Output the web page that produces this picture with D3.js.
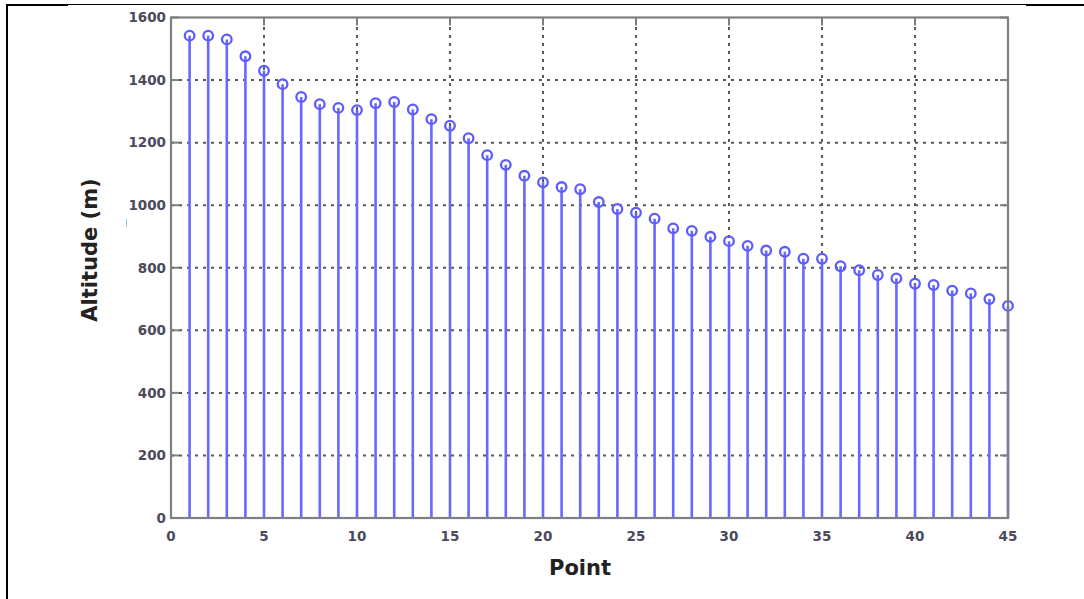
<!DOCTYPE html>
<html>
<head>
<meta charset="utf-8">
<title>Altitude stem chart</title>
<script src="https://d3js.org/d3.v7.min.js"></script>
<style>
  body { margin: 0; background: #fff; }
  svg { display: block; }
</style>
</head>
<body>
<svg id="chart" width="1084" height="599"></svg>
<script>
// altitude (m) at each point
var points = [1, 2, 3, 4, 5, 6, 7, 8, 9, 10, 11, 12, 13, 14, 15, 16, 17, 18, 19, 20, 21, 22, 23,
              24, 25, 26, 27, 28, 29, 30, 31, 32, 33, 34, 35, 36, 37, 38, 39, 40, 41, 42, 43, 44, 45];
var altitude = [1542, 1542, 1530, 1476, 1430, 1387, 1346, 1323, 1311, 1304,
                1326, 1330, 1306, 1275, 1254, 1214, 1160, 1129, 1094, 1073,
                1058, 1051, 1010, 988, 976, 957, 926, 918, 899, 885,
                870, 855, 851, 829, 829, 805, 792, 777, 766, 749,
                745, 727, 718, 700, 678];
var xTicks = [0, 5, 10, 15, 20, 25, 30, 35, 40, 45];
var yTicks = [0, 200, 400, 600, 800, 1000, 1200, 1400, 1600];

var svg = d3.select("#chart");

var x = d3.scaleLinear().domain([0, 45]).range([171, 1008]);
var y = d3.scaleLinear().domain([0, 1600]).range([518, 17.5]);

// frame lines round the picture (table cell border)
svg.append("line").attr("x1", 6).attr("x2", 1084).attr("y1", 4.5).attr("y2", 4.5)
    .attr("stroke", "#000").attr("stroke-width", 1);
svg.append("line").attr("x1", 6).attr("x2", 68).attr("y1", 5).attr("y2", 5)
    .attr("stroke", "#000").attr("stroke-width", 2);
svg.append("line").attr("x1", 1026).attr("x2", 1084).attr("y1", 5).attr("y2", 5)
    .attr("stroke", "#000").attr("stroke-width", 2);
svg.append("line").attr("x1", 7).attr("x2", 7).attr("y1", 4).attr("y2", 599)
    .attr("stroke", "#000").attr("stroke-width", 2);

// dotted grid
var grid = svg.append("g");
grid.selectAll(".gx")
    .data(xTicks.filter(function(d) { return d > 0 && d < 45; }))
  .enter().append("line")
    .attr("x1", function(d) { return x(d); })
    .attr("x2", function(d) { return x(d); })
    .attr("y1", y(0)).attr("y2", y(1600))
    .attr("stroke", "#5a5a5a").attr("stroke-width", 2)
    .attr("stroke-dasharray", "3 5");
grid.selectAll(".gy")
    .data(yTicks.filter(function(d) { return d > 0 && d < 1600; }))
  .enter().append("line")
    .attr("x1", x(0)).attr("x2", x(45))
    .attr("y1", function(d) { return y(d); })
    .attr("y2", function(d) { return y(d); })
    .attr("stroke", "#5a5a5a").attr("stroke-width", 2)
    .attr("stroke-dasharray", "3 5");

// inward ticks on all four sides
var tickLen = 8;
var ticks = svg.append("g").attr("stroke", "#7f7f7f").attr("stroke-width", 2);
yTicks.forEach(function(d) {
  ticks.append("line").attr("x1", x(0)).attr("x2", x(0) + tickLen).attr("y1", y(d)).attr("y2", y(d));
  ticks.append("line").attr("x1", x(45)).attr("x2", x(45) - tickLen).attr("y1", y(d)).attr("y2", y(d));
});
xTicks.forEach(function(d) {
  ticks.append("line").attr("x1", x(d)).attr("x2", x(d)).attr("y1", y(0)).attr("y2", y(0) - tickLen);
  ticks.append("line").attr("x1", x(d)).attr("x2", x(d)).attr("y1", y(1600)).attr("y2", y(1600) + tickLen);
});

// stems
var stems = svg.append("g");
stems.selectAll("line")
    .data(altitude)
  .enter().append("line")
    .attr("x1", function(d, i) { return x(points[i]); })
    .attr("x2", function(d, i) { return x(points[i]); })
    .attr("y1", y(0))
    .attr("y2", function(d) { return y(d); })
    .attr("stroke", "#6868ff")
    .attr("stroke-width", 2.6);

stems.selectAll("circle")
    .data(altitude)
  .enter().append("circle")
    .attr("cx", function(d, i) { return x(points[i]); })
    .attr("cy", function(d) { return y(d); })
    .attr("r", 4.8)
    .attr("fill", "none")
    .attr("stroke", "#5c5cff")
    .attr("stroke-width", 2.3);

// axes box
svg.append("rect")
    .attr("x", x(0)).attr("y", y(1600))
    .attr("width", x(45) - x(0)).attr("height", y(0) - y(1600))
    .attr("fill", "none")
    .attr("stroke", "#7f7f7f")
    .attr("stroke-width", 2.2);

// tick labels
var labels = svg.append("g")
    .attr("font-family", "DejaVu Sans, sans-serif")
    .attr("font-weight", "bold")
    .attr("font-size", "13.5px")
    .attr("fill", "#4a4a5c");
labels.selectAll(".yl")
    .data(yTicks)
  .enter().append("text")
    .attr("x", 166)
    .attr("y", function(d) { return y(d); })
    .attr("dy", "0.36em")
    .attr("text-anchor", "end")
    .text(function(d) { return d; });
labels.selectAll(".xl")
    .data(xTicks)
  .enter().append("text")
    .attr("x", function(d) { return x(d); })
    .attr("y", 541)
    .attr("text-anchor", "middle")
    .text(function(d) { return d; });

// axis titles
svg.append("text")
    .attr("x", 580)
    .attr("y", 575)
    .attr("text-anchor", "middle")
    .attr("font-family", "DejaVu Sans, sans-serif")
    .attr("font-weight", "bold")
    .attr("font-size", "21px")
    .attr("fill", "#222")
    .text("Point");

svg.append("text")
    .attr("transform", "translate(97,250) rotate(-90)")
    .attr("text-anchor", "middle")
    .attr("font-family", "DejaVu Sans, sans-serif")
    .attr("font-weight", "bold")
    .attr("font-size", "21px")
    .attr("fill", "#222")
    .text("Altitude (m)");

// small stray mark left of the axis
svg.append("line").attr("x1", 126.5).attr("x2", 126.5).attr("y1", 219).attr("y2", 227)
    .attr("stroke", "#8ec8e8").attr("stroke-width", 1);
</script>
</body>
</html>
